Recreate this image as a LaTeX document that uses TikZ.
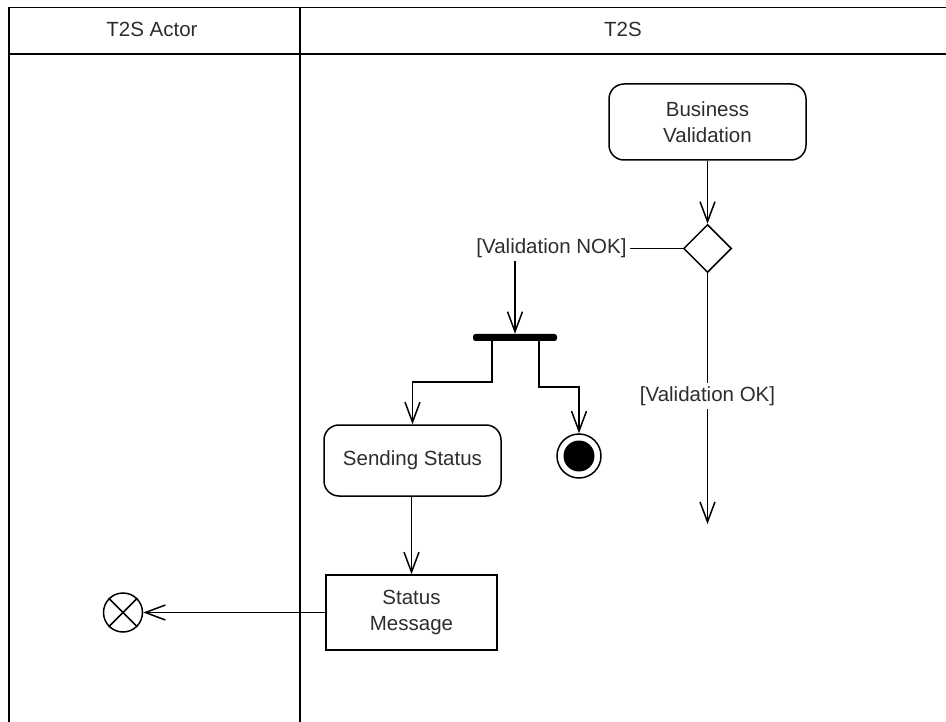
\documentclass[tikz,border=0pt]{standalone}
\usepackage{fontspec}
\setmainfont{Liberation Sans}
\usetikzlibrary{arrows.meta,shapes.geometric,calc}
\definecolor{txt}{RGB}{45,45,45}
\tikzset{
  act/.style={draw, rounded corners=15pt, line width=1.5pt, align=center, text=txt, inner sep=0pt},
  obj/.style={draw, line width=1.5pt, align=center, text=txt, inner sep=0pt},
  lbl/.style={text=txt, inner sep=3pt},
  arr/.style={line width=1.5pt, -{Straight Barb[length=20pt,width=15pt,line width=1.5pt]}},
  ln/.style={line width=1.5pt},
  lane/.style={line width=1.8pt}
}
\begin{document}
\begin{tikzpicture}[x=1pt,y=-1pt,font=\fontsize{20.5}{26}\selectfont]
\useasboundingbox (0,0) rectangle (946,722);
% swimlanes
\draw[lane] (9,722) -- (9,7.5) -- (946,7.5);
\draw[lane] (9,54) -- (946,54);
\draw[lane] (300,7.5) -- (300,722);
\node[lbl] (h1) at (152,29) {T2S Actor};
\node[lbl] (h2) at (623,29) {T2S};
% nodes
\node[act, minimum width=197pt, minimum height=76pt] (bv) at (707.5,122) {Business\\Validation};
\node[diamond, draw, line width=1.5pt, minimum width=48pt, minimum height=48pt, inner sep=0pt] (dec) at (707.5,248.5) {};
\node[lbl] (nok) at (551.5,248.5) {[Validation NOK]};
\node[lbl, fill=white] (ok) at (707.5,396) {[Validation OK]};
\coordinate (okend) at (707.5,524);
\node[fill, minimum width=84pt, minimum height=7pt, inner sep=0pt, rounded corners=2.5pt] (fork) at (515,337.5) {};
\node[act, minimum width=177pt, minimum height=71pt] (ss) at (412.5,460.5) {Sending Status};
\node[circle, draw, line width=1.5pt, minimum size=44pt, inner sep=0pt] (fin) at (579,456) {};
\fill (fin.center) circle (15.5pt);
\node[obj, minimum width=171pt, minimum height=75pt] (sm) at (411.5,612.5) {Status\\Message};
\node[circle, draw, line width=1.5pt, minimum size=39pt, inner sep=0pt] (ff) at (123,612.5) {};
\draw[ln] (ff.north west) -- (ff.south east);
\draw[ln] (ff.north east) -- (ff.south west);
% edges
\draw[arr] (bv.south) -- (dec.north);
\draw[ln] (dec.west) -- (nok.east);
\draw[arr] (nok.south -| fork.north) -- (fork.north);
\draw[arr] ([xshift=-23pt]fork.south) -- ++(0,41) -| (ss.north);
\draw[arr] ([xshift=24pt]fork.south) -- ++(0,46) -| (fin.north);
\draw[arr] (sm.north |- ss.south) -- (sm.north);
\draw[arr] (sm.west) -- (ff.east);
\draw[ln] (dec.south) -- (ok.north);
\draw[arr] (ok.south) -- (okend);
\end{tikzpicture}
\end{document}
